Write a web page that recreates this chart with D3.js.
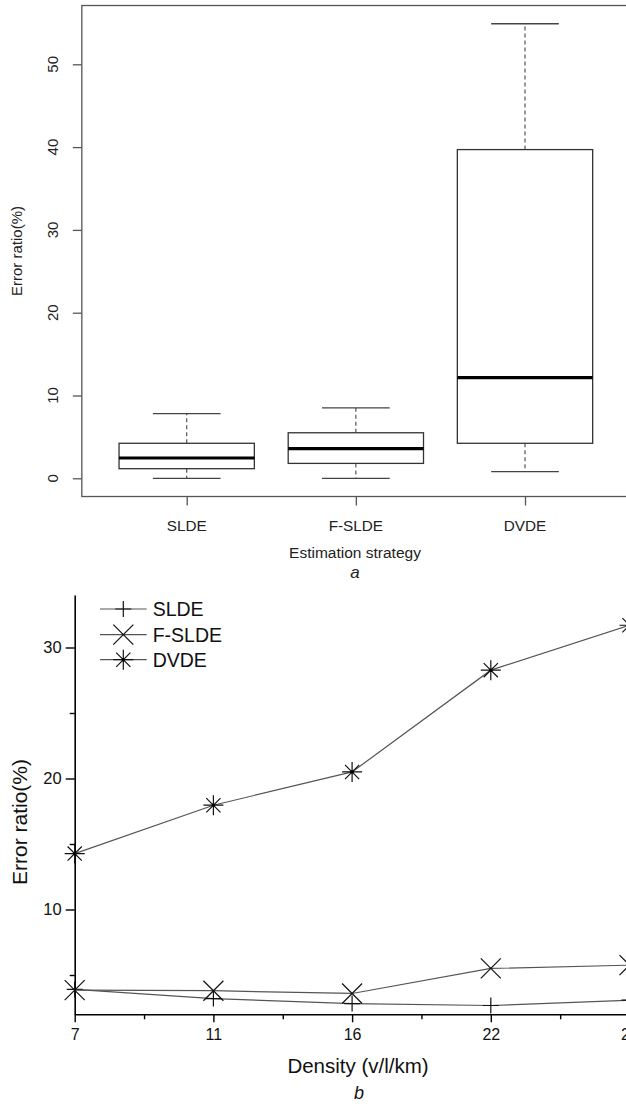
<!DOCTYPE html>
<html><head><meta charset="utf-8">
<script src="https://cdn.jsdelivr.net/npm/d3@7"></script>
<style>
html,body{margin:0;padding:0;background:#fff;}
svg{display:block;font-family:"Liberation Sans",Arial,Helvetica,sans-serif;}
</style></head>
<body>
<svg id="chart" width="626" height="1104"></svg>
<script>
// ---- Data: panel a (box plot) ----
const strategies = ["SLDE", "F-SLDE", "DVDE"];
const whiskerLow  = [0, 0, 0.8];
const quart1      = [1.16, 1.8, 4.23];
const medians     = [2.45, 3.58, 12.15];
const quart3      = [4.23, 5.5, 39.7];
const whiskerHigh = [7.8, 8.5, 54.9];
const ticksA = [0, 10, 20, 30, 40, 50];

// ---- Data: panel b (lines) ----
const densities = ["7", "11", "16", "22", "27"];
const sldeVals  = [3.9, 3.2, 2.82, 2.67, 3.08];
const fsldeVals = [3.85, 3.8, 3.59, 5.5, 5.75];
const dvdeVals  = [14.27, 17.96, 20.5, 28.27, 31.7];
const majorTicksB = [10, 20, 30];
const minorTicksB = [5, 15, 25];

const svg = d3.select("#chart");

// =============== Panel a ===============
const xA = d3.scaleLinear().domain([1, 3]).range([186.7, 525]);
const yA = d3.scaleLinear().domain([0, 50]).range([478.3, 64.3]);
const gA = svg.append("g");

// frame (R box, 4% extension)
const fx0 = xA(0.38), fx1 = xA(3.62), fy0 = yA(57.1), fy1 = yA(-2.2);
gA.append("rect").attr("x", fx0).attr("y", fy0).attr("width", fx1 - fx0).attr("height", fy1 - fy0)
  .attr("fill", "none").attr("stroke", "#555").attr("stroke-width", 1.3);

// y axis ticks
const yAxisA = d3.axisLeft(yA).tickValues(ticksA).tickSize(9).tickFormat("");
const gyA = gA.append("g").attr("transform", `translate(${fx0},0)`).call(yAxisA);
gyA.select(".domain").remove();
gyA.selectAll(".tick line").attr("stroke", "#555").attr("stroke-width", 1.3);
gA.selectAll(".ylabA").data(ticksA).enter().append("text")
  .attr("transform", d => `translate(57.5,${yA(d)}) rotate(-90)`)
  .attr("text-anchor", "middle").attr("font-size", 15).attr("fill", "#222").text(d => d);

// x axis ticks
const xAxisA = d3.axisBottom(xA).tickValues([1, 2, 3]).tickSize(9).tickFormat("");
const gxA = gA.append("g").attr("transform", `translate(0,${fy1})`).call(xAxisA);
gxA.select(".domain").remove();
gxA.selectAll(".tick line").attr("stroke", "#555").attr("stroke-width", 1.3);
gA.selectAll(".xlabA").data(strategies).enter().append("text")
  .attr("x", (d, i) => xA(i + 1)).attr("y", 531)
  .attr("text-anchor", "middle").attr("font-size", 15.3).attr("fill", "#222").text(d => d);

// axis titles
gA.append("text").attr("x", 355).attr("y", 558).attr("text-anchor", "middle")
  .attr("font-size", 15.5).attr("fill", "#222").text("Estimation strategy");
gA.append("text").attr("x", 355).attr("y", 578).attr("text-anchor", "middle")
  .attr("font-size", 17).attr("font-style", "italic").attr("fill", "#222").text("a");
gA.append("text").attr("transform", `translate(21.5,${(fy0 + fy1) / 2}) rotate(-90)`)
  .attr("text-anchor", "middle").attr("font-size", 15).attr("fill", "#222").text("Error ratio(%)");

// boxes
const boxW = 0.8, capW = 0.4;
strategies.forEach((s, i) => {
  const c = i + 1;
  const g = gA.append("g");
  g.append("line").attr("x1", xA(c)).attr("x2", xA(c)).attr("y1", yA(quart3[i])).attr("y2", yA(whiskerHigh[i]))
    .attr("stroke", "#555").attr("stroke-width", 1.2).attr("stroke-dasharray", "4,3");
  g.append("line").attr("x1", xA(c)).attr("x2", xA(c)).attr("y1", yA(quart1[i])).attr("y2", yA(whiskerLow[i]))
    .attr("stroke", "#555").attr("stroke-width", 1.2).attr("stroke-dasharray", "4,3");
  [whiskerHigh[i], whiskerLow[i]].forEach(v => {
    g.append("line").attr("x1", xA(c - capW / 2)).attr("x2", xA(c + capW / 2)).attr("y1", yA(v)).attr("y2", yA(v))
      .attr("stroke", "#444").attr("stroke-width", 1.3);
  });
  g.append("rect").attr("x", xA(c - boxW / 2)).attr("y", yA(quart3[i]))
    .attr("width", xA(c + boxW / 2) - xA(c - boxW / 2)).attr("height", yA(quart1[i]) - yA(quart3[i]))
    .attr("fill", "#fff").attr("stroke", "#333").attr("stroke-width", 1.3);
  g.append("line").attr("x1", xA(c - boxW / 2)).attr("x2", xA(c + boxW / 2)).attr("y1", yA(medians[i])).attr("y2", yA(medians[i]))
    .attr("stroke", "#000").attr("stroke-width", 3.2);
});

// =============== Panel b ===============
const xB = d3.scalePoint().domain(densities).range([74.7, 629.5]);
const yB = d3.scaleLinear().domain([2, 34]).range([1014.3, 595.1]);
const gB = svg.append("g");

// y axis
const gyB = gB.append("g").attr("transform", "translate(74.7,0)")
  .call(d3.axisLeft(yB).tickValues(majorTicksB).tickSize(9).tickPadding(4).tickSizeOuter(0));
gyB.select(".domain").attr("stroke", "#000").attr("stroke-width", 1.6);
gyB.selectAll(".tick line").attr("stroke", "#000").attr("stroke-width", 1.4);
gyB.selectAll(".tick text").attr("font-size", 16.5).attr("fill", "#111").attr("font-family", null);
const gyBm = gB.append("g").attr("transform", "translate(74.7,0)")
  .call(d3.axisLeft(yB).tickValues(minorTicksB).tickSize(5).tickFormat(""));
gyBm.select(".domain").remove();
gyBm.selectAll(".tick line").attr("stroke", "#000").attr("stroke-width", 1.4);

// x axis
const gxB = gB.append("g").attr("transform", "translate(0,1014.3)")
  .call(d3.axisBottom(xB).tickSize(8).tickPadding(6).tickSizeOuter(0));
gxB.select(".domain").attr("stroke", "#000").attr("stroke-width", 1.6);
gxB.selectAll(".tick line").attr("stroke", "#000").attr("stroke-width", 1.4);
gxB.selectAll(".tick text").attr("font-size", 16).attr("fill", "#111").attr("font-family", null);
const xMid = d3.scaleLinear().domain([0, densities.length - 1]).range([74.7, 629.5]);
const mids = d3.range(densities.length - 1).map(i => i + 0.5);
const gxBm = gB.append("g").attr("transform", "translate(0,1014.3)")
  .call(d3.axisBottom(xMid).tickValues(mids).tickSize(5).tickFormat(""));
gxBm.select(".domain").remove();
gxBm.selectAll(".tick line").attr("stroke", "#000").attr("stroke-width", 1.4);

// titles
gB.append("text").attr("x", 358).attr("y", 1073).attr("text-anchor", "middle")
  .attr("font-size", 20.5).attr("fill", "#111").text("Density (v/l/km)");
gB.append("text").attr("x", 359).attr("y", 1099).attr("text-anchor", "middle")
  .attr("font-size", 18).attr("font-style", "italic").attr("fill", "#111").text("b");
gB.append("text").attr("transform", `translate(27,822) rotate(-90)`)
  .attr("text-anchor", "middle").attr("font-size", 21).attr("fill", "#111").text("Error ratio(%)");

// marker shapes
function plusPath(cx, cy) { const r = 8; return `M${cx - r},${cy}H${cx + r}M${cx},${cy - r}V${cy + r}`; }
function xPath(cx, cy) { const r = 10; return `M${cx - r},${cy - r}L${cx + r},${cy + r}M${cx - r},${cy + r}L${cx + r},${cy - r}`; }
function starPath(cx, cy) {
  const r = 10, d = 7.1;
  return `M${cx - r},${cy}H${cx + r}M${cx},${cy - r}V${cy + r}M${cx - d},${cy - d}L${cx + d},${cy + d}M${cx - d},${cy + d}L${cx + d},${cy - d}`;
}

const seriesB = [
  { name: "SLDE", vals: sldeVals, shape: plusPath },
  { name: "F-SLDE", vals: fsldeVals, shape: xPath },
  { name: "DVDE", vals: dvdeVals, shape: starPath }
];
const lineGen = d3.line().x((d, i) => xB(densities[i])).y(d => yB(d));

seriesB.forEach(s => {
  gB.append("path").attr("d", lineGen(s.vals)).attr("fill", "none")
    .attr("stroke", "#555").attr("stroke-width", 1.2);
  s.vals.forEach((v, i) => {
    gB.append("path").attr("d", s.shape(xB(densities[i]), yB(v)))
      .attr("fill", "none").attr("stroke", "#111").attr("stroke-width", 1.2);
    if (s.name === "DVDE") {
      gB.append("circle").attr("cx", xB(densities[i])).attr("cy", yB(v)).attr("r", 1.6).attr("fill", "#000");
    }
  });
});

// legend
const legY = [616, 641.7, 666.7];
seriesB.forEach((s, i) => {
  const y = legY[i] - 7;
  gB.append("line").attr("x1", 100).attr("x2", 146.7).attr("y1", y).attr("y2", y)
    .attr("stroke", "#555").attr("stroke-width", 1.2);
  gB.append("path").attr("d", s.shape(123.3, y)).attr("fill", "none").attr("stroke", "#111").attr("stroke-width", 1.2);
  if (s.name === "DVDE") gB.append("circle").attr("cx", 123.3).attr("cy", y).attr("r", 1.6).attr("fill", "#000");
  gB.append("text").attr("x", 152.7).attr("y", legY[i]).attr("font-size", 19.5).attr("fill", "#111").text(s.name);
});
</script>
</body></html>
